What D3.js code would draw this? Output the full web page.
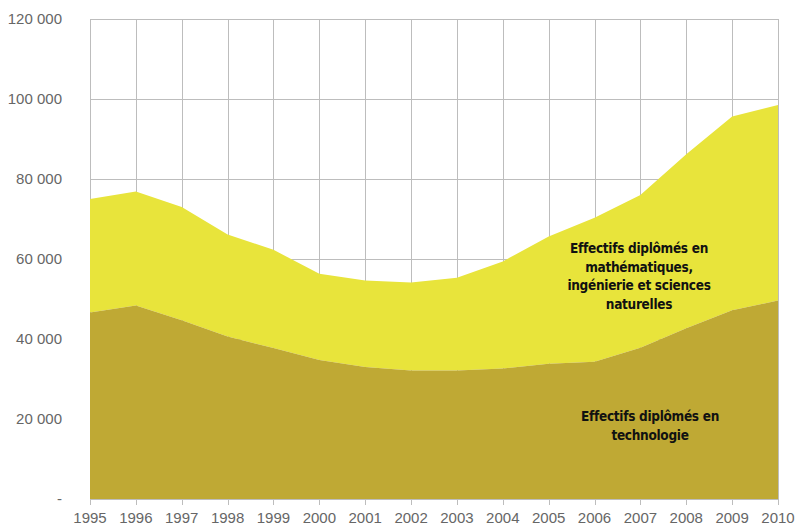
<!DOCTYPE html>
<meta charset="utf-8">
<style>
body { margin: 0; background: #fff; }
.axis text { font: 15px "Liberation Sans", Arial, sans-serif; fill: #666; }
.label { font: bold 13.5px "DejaVu Sans Condensed", "DejaVu Sans", sans-serif; font-stretch: condensed; letter-spacing: -0.3px; fill: #111; text-anchor: middle; }
</style>
<body>
<script src="https://cdn.jsdelivr.net/npm/d3@7"></script>
<script>

var years = [1995, 1996, 1997, 1998, 1999, 2000, 2001, 2002, 2003, 2004, 2005, 2006, 2007, 2008, 2009, 2010];

// effectifs diplômés en technologie
var techno = [46600, 48400, 44700, 40600, 37750, 34750, 33000, 32100, 32100, 32600, 33800, 34300, 37800, 42700, 47200, 49600];

// total (technologie + mathématiques, ingénierie et sciences naturelles)
var total = [75000, 76900, 73000, 66100, 62300, 56300, 54600, 54100, 55300, 59400, 65600, 70300, 76000, 86200, 95600, 98500];

var yTicks = [0, 20000, 40000, 60000, 80000, 100000, 120000];

var width = 798,
    height = 526,
    margin = {top: 19, right: 20, bottom: 27, left: 90};

var svg = d3.select("body").append("svg")
    .attr("width", width)
    .attr("height", height);

var x = d3.scaleLinear()
    .domain([1995, 2010])
    .range([margin.left, width - margin.right]);

var y = d3.scaleLinear()
    .domain([0, 120000])
    .range([height - margin.bottom, margin.top]);

var fmt = function(d) { return d === 0 ? "-" : d3.format(",")(d).replace(",", " "); };

// grid
svg.append("g").selectAll("line.h")
    .data(yTicks)
  .enter().append("line")
    .attr("x1", x(1995)).attr("x2", x(2010))
    .attr("y1", function(d) { return y(d) + 0.5; })
    .attr("y2", function(d) { return y(d) + 0.5; })
    .attr("stroke", "#bdbdbd");

svg.append("g").selectAll("line.v")
    .data(years)
  .enter().append("line")
    .attr("x1", function(d) { return Math.round(x(d)) + 0.5; })
    .attr("x2", function(d) { return Math.round(x(d)) + 0.5; })
    .attr("y1", y(120000)).attr("y2", y(0) + 6)
    .attr("stroke", "#bdbdbd");

// areas
var area = d3.area()
    .x(function(d) { return x(d.year); })
    .y0(function(d) { return y(d.lo); })
    .y1(function(d) { return y(d.hi); });

var upperBand = years.map(function(yr, i) { return {year: yr, lo: techno[i], hi: total[i]}; });
var lowerBand = years.map(function(yr, i) { return {year: yr, lo: 0, hi: techno[i]}; });

svg.append("path").datum(upperBand).attr("d", area).attr("fill", "#e8e43b");
svg.append("path").datum(lowerBand).attr("d", area).attr("fill", "#bfa934");

// axes
var yAxis = svg.append("g").attr("class", "axis");
yAxis.selectAll("text")
    .data(yTicks)
  .enter().append("text")
    .attr("x", 62)
    .attr("y", function(d) { return y(d); })
    .attr("dy", "0.35em")
    .attr("text-anchor", "end")
    .text(fmt);

var xAxis = svg.append("g").attr("class", "axis");
xAxis.selectAll("text")
    .data(years)
  .enter().append("text")
    .attr("x", function(d) { return x(d); })
    .attr("y", height - 3)
    .attr("text-anchor", "middle")
    .text(function(d) { return d; });

// labels
var lab1 = ["Effectifs diplômés en", "mathématiques,", "ingénierie et sciences", "naturelles"];
svg.append("g").selectAll("text")
    .data(lab1)
  .enter().append("text")
    .attr("class", "label")
    .attr("x", 639)
    .attr("y", function(d, i) { return 253 + i * 18.5; })
    .text(function(d) { return d; });

var lab2 = ["Effectifs diplômés en", "technologie"];
svg.append("g").selectAll("text")
    .data(lab2)
  .enter().append("text")
    .attr("class", "label")
    .attr("x", 650)
    .attr("y", function(d, i) { return 421 + i * 19; })
    .text(function(d) { return d; });

</script>
</body>
